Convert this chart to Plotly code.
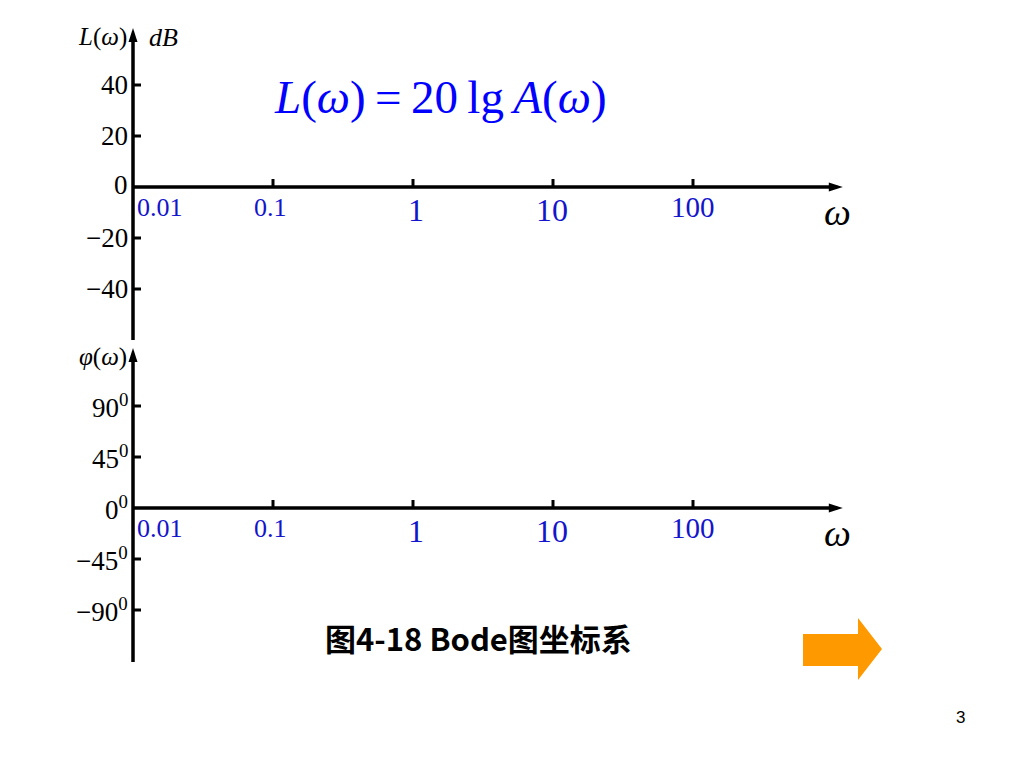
import numpy as np
import plotly.graph_objects as go

# ---------------- data ----------------
freq_ticks = [0.01, 0.1, 1, 10, 100]
freq_labels = ["0.01", "0.1", "1", "10", "100"]
mag_ticks = [40, 20, 0, -20, -40]
mag_labels = ["40", "20", "0", "\u221220", "\u221240"]
phase_ticks = [90, 45, 0, -45, -90]
phase_labels = ["90<sup>0</sup>", "45<sup>0</sup>", "0<sup>0</sup>",
                "\u221245<sup>0</sup>", "\u221290<sup>0</sup>"]

# axis extents (data units; frequency in log10 decades)
freq_axis_end = 3.07
mag_axis_range = [-60, 62.4]
phase_axis_range = [-135.9, 141.2]

# ---------------- styles ----------------
OFF = 8                     # browser body margin
W, H = 1024 - 2 * OFF, 768 - 2 * OFF
BLUE = "#1414CC"
FORMULA_BLUE = "#0000FF"
SERIF = "Liberation Serif, Times New Roman, serif"
LINE_W = 3.5
freq_label_sizes = [26, 26, 32, 32, 29]
freq_label_dx = [27, -3, 3, -1, 0]
freq_label_dy = [-20, -20, -23, -23, -20]

# screen-pixel geometry -> axis ranges
X0_PX, DEC_PX = 133, 140.0
TOP_Y0_PX, TOP_SCALE = 187, 2.55        # px per dB
BOT_Y0_PX, BOT_SCALE = 508, 1.1333      # px per degree

xr = [-2 - (X0_PX - OFF) / DEC_PX, -2 + (W - (X0_PX - OFF)) / DEC_PX]
yr_top = [(TOP_Y0_PX - OFF - H) / TOP_SCALE, (TOP_Y0_PX - OFF) / TOP_SCALE]
yr_bot = [(BOT_Y0_PX - OFF - H) / BOT_SCALE, (BOT_Y0_PX - OFF) / BOT_SCALE]


def pxx(x):
    return (x - OFF) / W


def pxy(y):
    return 1 - (y - OFF) / H


lx_ticks = list(np.log10(freq_ticks))
lx_start = lx_ticks[0]

fig = go.Figure()

shapes = []
annotations = []

for yref, yrng, yticks, ylabels in [
    ("y", mag_axis_range, mag_ticks, mag_labels),
    ("y2", phase_axis_range, phase_ticks, phase_labels),
]:
    # axis lines
    fig.add_trace(go.Scatter(x=[lx_start, freq_axis_end - 0.04], y=[0, 0], mode="lines",
                             line=dict(color="black", width=LINE_W), yaxis=yref, xaxis="x",
                             hoverinfo="skip", showlegend=False))
    fig.add_trace(go.Scatter(x=[lx_start, lx_start], y=[yrng[0], yrng[1] * 0.95], mode="lines",
                             line=dict(color="black", width=LINE_W), yaxis=yref, xaxis="x",
                             hoverinfo="skip", showlegend=False))
    # arrowheads
    shapes.append(dict(type="path", xref="x", yref=yref, xsizemode="pixel", ysizemode="pixel",
                       xanchor=freq_axis_end, yanchor=0,
                       path="M0,0 L-14,4.5 L-14,-4.5 Z", fillcolor="black", line=dict(width=0)))
    shapes.append(dict(type="path", xref="x", yref=yref, xsizemode="pixel", ysizemode="pixel",
                       xanchor=lx_start, yanchor=yrng[1],
                       path="M0,0 L-4.5,-14 L4.5,-14 Z", fillcolor="black", line=dict(width=0)))
    # x ticks (pointing up)
    for lx in lx_ticks[1:]:
        shapes.append(dict(type="line", xref="x", yref=yref, ysizemode="pixel", yanchor=0,
                           x0=lx, x1=lx, y0=0, y1=8, line=dict(color="black", width=3)))
    # y ticks (pointing right)
    for t in yticks:
        if t == 0:
            continue
        shapes.append(dict(type="line", xref="x", yref=yref, xsizemode="pixel", xanchor=lx_start,
                           x0=0, x1=8, y0=t, y1=t, line=dict(color="black", width=3)))
    # x tick labels
    for lx, lab, fs, dx, dy in zip(lx_ticks, freq_labels, freq_label_sizes, freq_label_dx, freq_label_dy):
        annotations.append(dict(x=lx, y=0, xref="x", yref=yref, text=lab, showarrow=False,
                                xanchor="center", yanchor="middle", xshift=dx, yshift=dy,
                                font=dict(family=SERIF, size=fs, color=BLUE)))
    # y tick labels
    for t, lab in zip(yticks, ylabels):
        annotations.append(dict(x=lx_start, y=t, xref="x", yref=yref, text=lab, showarrow=False,
                                xanchor="right", yanchor="middle", xshift=-3,
                                yshift=(2 if (t == 0 and yref == "y") else 0),
                                font=dict(family=SERIF, size=27, color="black")))
    # omega label
    annotations.append(dict(x=freq_axis_end - 0.035, y=0, xref="x", yref=yref, text="<i>\u03c9</i>",
                            showarrow=False, xanchor="center", yanchor="middle", yshift=-25,
                            font=dict(family=SERIF, size=38, color="black")))

# axis titles
annotations.append(dict(x=lx_start, y=(TOP_Y0_PX - 37) / TOP_SCALE, xref="x", yref="y",
                        text="<i>L</i>(<i>\u03c9</i>)", showarrow=False, xanchor="right",
                        yanchor="middle", xshift=-4,
                        font=dict(family=SERIF, size=25, color="black")))
annotations.append(dict(x=lx_start, y=(TOP_Y0_PX - 37) / TOP_SCALE, xref="x", yref="y",
                        text="<i>dB</i>", showarrow=False, xanchor="left",
                        yanchor="middle", xshift=14,
                        font=dict(family=SERIF, size=26, color="black")))
annotations.append(dict(x=lx_start, y=(BOT_Y0_PX - 357) / BOT_SCALE, xref="x", yref="y2",
                        text="<i>\u03c6</i>(<i>\u03c9</i>)", showarrow=False, xanchor="right",
                        yanchor="middle", xshift=-4,
                        font=dict(family=SERIF, size=25, color="black")))

# formula
annotations.append(dict(x=pxx(440), y=pxy(97), xref="paper", yref="paper",
                        text="<i>L</i>(<i>\u03c9</i>)\u2009=\u200920\u2009lg\u2009<i>A</i>(<i>\u03c9</i>)",
                        showarrow=False, xanchor="center", yanchor="middle",
                        font=dict(family=SERIF, size=47, color=FORMULA_BLUE)))

# caption
annotations.append(dict(x=pxx(478), y=pxy(637), xref="paper", yref="paper",
                        text="<b>图4-18 Bode图坐标系</b>", showarrow=False,
                        xanchor="center", yanchor="middle",
                        font=dict(family="Noto Sans CJK SC", size=31, color="black")))

# page number
annotations.append(dict(x=pxx(960), y=pxy(717), xref="paper", yref="paper",
                        text="3", showarrow=False, xanchor="center", yanchor="middle",
                        font=dict(family="Liberation Sans, Arial", size=17, color="black")))

# orange navigation arrow (decoration, paper coords)
def pt(x, y):
    return f"{pxx(x):.5f},{pxy(y):.5f}"


arrow_path = ("M" + pt(803, 634) + " L" + pt(858, 634) + " L" + pt(858, 618) + " L" + pt(882, 649)
              + " L" + pt(858, 680) + " L" + pt(858, 666) + " L" + pt(803, 666) + " Z")
shapes.append(dict(type="path", xref="paper", yref="paper", path=arrow_path,
                   fillcolor="#FF9900", line=dict(width=0)))

fig.update_layout(
    width=W, height=H,
    margin=dict(l=0, r=0, t=0, b=0),
    paper_bgcolor="white", plot_bgcolor="white",
    showlegend=False,
    xaxis=dict(range=xr, domain=[0, 1], visible=False, fixedrange=True),
    yaxis=dict(range=yr_top, domain=[0, 1], visible=False, fixedrange=True),
    yaxis2=dict(range=yr_bot, domain=[0, 1], visible=False, overlaying="y", anchor="x",
                fixedrange=True),
    shapes=shapes,
    annotations=annotations,
)

fig.write_html("out.html", config={"displayModeBar": False})
